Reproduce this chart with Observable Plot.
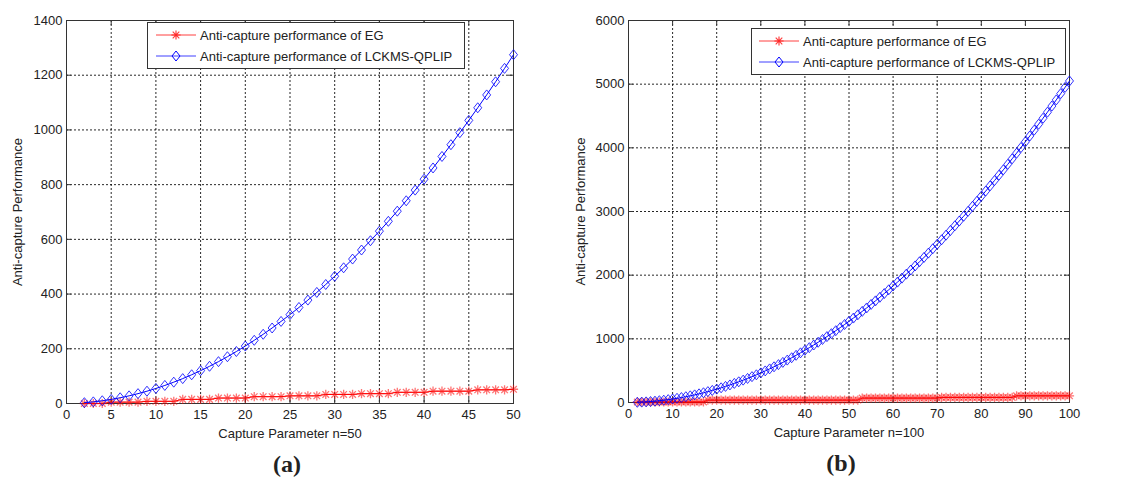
<!DOCTYPE html>
<html><head><meta charset="utf-8">
<script src="https://cdn.jsdelivr.net/npm/d3@7"></script>
<script src="https://cdn.jsdelivr.net/npm/@observablehq/plot@0.6"></script>
<style>
body{margin:0;background:#fff;}
#root{position:relative;width:1126px;height:477px;overflow:hidden;background:#fff;font-family:"Liberation Sans",Arial,sans-serif;color:#222;}
.panel{position:absolute;top:0;}
.legend{position:absolute;background:#fff;border:1px solid #333;box-sizing:border-box;font-size:13px;}
.legend .row{position:absolute;height:20px;display:flex;align-items:center;white-space:nowrap;}
.legend svg{display:block;}
.sub{position:absolute;font-family:"Liberation Serif","Times New Roman",serif;font-weight:bold;font-size:24px;transform:translate(-50%,-50%);}
</style></head><body><div id="root"></div>
<script>
// ---------- data ----------
const seriesNames = ["Anti-capture performance of EG", "Anti-capture performance of LCKMS-QPLIP"];
const xLabelA = "Capture Parameter n=50";
const xLabelB = "Capture Parameter n=100";
const yLabel = "Anti-capture Performance";

const nA = d3.range(2, 51);   // 2..50
const nB = d3.range(2, 101);  // 2..100

const egA = [0,0,0,5,5,5,5,8,8,8,8,15,15,15,15,20,20,20,20,25,25,25,25,28,28,28,28,33,33,33,33,36,36,36,36,41,41,41,41,45,45,45,45,45,50,50,50,50,52];
const lckA = [3,6,10,15,21,28,36,45,55,66,78,91,105,120,136,153,171,190,210,231,253,276,300,325,351,378,406,435,465,496,528,561,595,630,666,703,741,780,820,861,903,946,990,1035,1081,1128,1176,1225,1275];

const egB = [8,8,8,8,8,8,8,8,8,8,8,8,8,8,8,8,
  38,38,38,38,38,38,38,38,38,38,38,38,38,38,38,38,38,38,38,38,38,38,38,38,38,38,38,38,38,38,38,38,38,38,38,
  70,70,70,70,70,70,70,70,70,70,70,70,70,70,70,70,70,70,
  80,80,80,80,80,80,80,80,80,80,80,80,80,80,80,80,80,
  105,105,105,105,105,105,105,105,105,105,105,105,105];
const lckB = [3,6,10,15,21,28,36,45,55,66,78,91,105,120,136,153,171,190,210,231,253,276,300,325,351,378,406,435,465,496,528,561,595,630,666,703,741,780,820,861,903,946,990,1035,1081,1128,1176,1225,1275,1326,1378,1431,1485,1540,1596,1653,1711,1770,1830,1891,1953,2016,2080,2145,2211,2278,2346,2415,2485,2556,2628,2701,2775,2850,2926,3003,3081,3160,3240,3321,3403,3486,3570,3655,3741,3828,3916,4005,4095,4186,4278,4371,4465,4560,4656,4753,4851,4950,5050];

const xTicksA = d3.range(0, 51, 5);
const yTicksA = d3.range(0, 1401, 200);
const xTicksB = d3.range(0, 101, 10);
const yTicksB = d3.range(0, 6001, 1000);

// ---------- symbols ----------
const starSym = {draw(ctx, size){const r=Math.sqrt(size/Math.PI), d=r*0.72;
  ctx.moveTo(-r,0);ctx.lineTo(r,0);ctx.moveTo(0,-r);ctx.lineTo(0,r);
  ctx.moveTo(-d,-d);ctx.lineTo(d,d);ctx.moveTo(-d,d);ctx.lineTo(d,-d);}};
const diamondSym = {draw(ctx, size){const r=Math.sqrt(size/Math.PI), w=r*0.8;
  ctx.moveTo(0,-r);ctx.lineTo(w,0);ctx.lineTo(0,r);ctx.lineTo(-w,0);ctx.closePath();}};

const RED = "#ff0000", BLUE = "#0000ff";
const fmt = d => String(d);

function panel(o){
  const W = 540, H = 450;
  const pw = W - o.ml - o.mr, ph = H - o.mt - o.mb;
  const eg = o.n.map((n,i)=>({n, v:o.eg[i]}));
  const lk = o.n.map((n,i)=>({n, v:o.lk[i]}));
  return Plot.plot({
    width: W, height: H,
    marginLeft: o.ml, marginRight: o.mr, marginTop: o.mt, marginBottom: o.mb,
    style: {fontFamily: '"Liberation Sans", Arial, sans-serif', fontSize: "13px", color: "#222", background: "#fff"},
    x: {domain: o.xd, ticks: o.xt},
    y: {domain: o.yd, ticks: o.yt},
    marks: [
      Plot.gridX(o.xt, {stroke: "#000", strokeOpacity: 0.85, strokeDasharray: "2,2"}),
      Plot.gridY(o.yt, {stroke: "#000", strokeOpacity: 0.85, strokeDasharray: "2,2"}),
      Plot.tickX(o.xt, {x: d=>d, insetTop: ph-5, stroke: "#333"}),
      Plot.tickX(o.xt, {x: d=>d, insetBottom: ph-5, stroke: "#333"}),
      Plot.tickY(o.yt, {y: d=>d, insetRight: pw-5, stroke: "#333"}),
      Plot.tickY(o.yt, {y: d=>d, insetLeft: pw-5, stroke: "#333"}),
      Plot.frame({stroke: "#333"}),
      Plot.line(eg, {x: "n", y: "v", stroke: RED, strokeWidth: 1}),
      Plot.dot(eg, {x: "n", y: "v", symbol: starSym, r: 4.6, stroke: RED, strokeOpacity: 0.55, strokeWidth: 1.3}),
      Plot.line(lk, {x: "n", y: "v", stroke: BLUE, strokeWidth: 1}),
      Plot.dot(lk, {x: "n", y: "v", symbol: diamondSym, r: 5, stroke: BLUE, strokeOpacity: 0.8, fill: "none", strokeWidth: 1}),
      Plot.axisX(o.xt, {tickSize: 0, tickPadding: 6, label: null, fill: "#222", tickFormat: fmt}),
      Plot.axisY(o.yt, {tickSize: 0, tickPadding: 4, label: null, fill: "#222", tickFormat: fmt}),
      Plot.text([o.xLabel], {frameAnchor: "bottom", dy: 30, lineAnchor: "middle", fill: "#222", fontSize: 13}),
      Plot.text([yLabel], {frameAnchor: "left", dx: o.ylDx, rotate: -90, lineAnchor: "middle", textAnchor: "middle", fill: "#222", fontSize: 13})
    ]
  });
}

const root = document.getElementById("root");

function place(el, left){ el.classList.add("panel"); el.style.left = left + "px"; root.appendChild(el); }

place(panel({n: nA, eg: egA, lk: lckA, xd: [0, 50], yd: [0, 1400], xt: xTicksA, yt: yTicksA,
  ml: 66, mr: 27, mt: 20, mb: 47, xLabel: xLabelA, ylDx: -49}), 0);
place(panel({n: nB, eg: egB, lk: lckB, xd: [0, 100], yd: [0, 6000], xt: xTicksB, yt: yTicksB,
  ml: 68, mr: 31, mt: 20, mb: 48, xLabel: xLabelB, ylDx: -48}), 560);

function legend(left, top, width, height, sampleX, textX){
  const box = document.createElement("div");
  box.className = "legend";
  Object.assign(box.style, {left: left+"px", top: top+"px", width: width+"px", height: height+"px"});
  const rows = [
    {name: seriesNames[0], color: RED, sym: "star", cy: 12},
    {name: seriesNames[1], color: BLUE, sym: "diamond", cy: 33}
  ];
  for (const r of rows){
    const row = document.createElement("div");
    row.className = "row";
    row.style.left = sampleX + "px";
    row.style.top = (r.cy - 10) + "px";
    const mk = r.sym === "star"
      ? `<path d="M15.4,10H24.6M20,5.4V14.6M16.7,6.7L23.3,13.3M16.7,13.3L23.3,6.7" stroke="${r.color}" stroke-opacity="0.75" stroke-width="1.2" fill="none"/>`
      : `<path d="M20,5L24,10L20,15L16,10Z" stroke="${r.color}" fill="none"/>`;
    row.innerHTML = `<svg width="${textX - sampleX}" height="20"><line x1="0" x2="40" y1="10" y2="10" stroke="${r.color}" stroke-opacity="0.75"/>${mk}</svg><span>${r.name}</span>`;
    box.appendChild(row);
  }
  root.appendChild(box);
}
legend(147, 22, 318, 47, 8, 52);
legend(751, 28, 315, 47, 7, 51);

function sub(text, x, y){
  const d = document.createElement("div");
  d.className = "sub"; d.textContent = text;
  d.style.left = x + "px"; d.style.top = y + "px";
  root.appendChild(d);
}
sub("(a)", 287, 464);
sub("(b)", 841, 463);
</script>
</body></html>
